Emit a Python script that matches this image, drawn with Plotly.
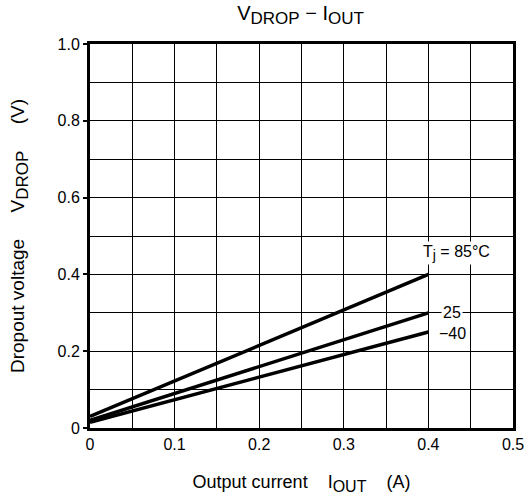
import plotly.graph_objects as go

# Dropout voltage vs output current at three junction temperatures
iout = [0.0, 0.4]
vdrop_85 = [0.030, 0.400]
vdrop_25 = [0.020, 0.300]
vdrop_m40 = [0.015, 0.250]

x_tickvals = [0, 0.1, 0.2, 0.3, 0.4, 0.5]
x_ticktext = ["0", "0.1", "0.2", "0.3", "0.4", "0.5"]
y_tickvals = [0, 0.2, 0.4, 0.6, 0.8, 1.0]
y_ticktext = ["0", "0.2", "0.4", "0.6", "0.8", "1.0"]

FONT = "Liberation Sans, Arial, sans-serif"


def sub(s, size):
    # subscript kept close to full size, as in datasheet typography
    return f"<sub><span style='font-size:{size}px'>{s}</span></sub>"


fig = go.Figure()
for ys in (vdrop_85, vdrop_25, vdrop_m40):
    fig.add_trace(go.Scatter(x=iout, y=ys, mode="lines",
                             line=dict(color="black", width=3.5),
                             showlegend=False, hoverinfo="skip"))

# Curve labels
labels = [
    (0.433, 0.456, "T" + sub("j", 14) + " = 85°C"),
    (0.428, 0.302, "25"),
    (0.428, 0.245, "−40"),
]
for x, y, t in labels:
    fig.add_annotation(x=x, y=y, text=t, showarrow=False,
                       font=dict(family=FONT, size=16, color="black"),
                       bgcolor="white", borderpad=1)

axis_common = dict(
    showline=True, linecolor="black", linewidth=3, mirror=True,
    showgrid=True, gridcolor="black", gridwidth=1,
    zeroline=False, color="black", ticklabeloverflow="allow",
    tickfont=dict(family=FONT, size=16, color="black"),
)

fig.update_layout(
    width=530, height=502, autosize=False,
    margin=dict(l=90, r=6, t=44, b=74),
    paper_bgcolor="white", plot_bgcolor="white",
    font=dict(family=FONT, color="black"),
    title=dict(text="V" + sub("DROP", 17) + " − I" + sub("OUT", 17),
               x=0.567, xanchor="center", y=0.974, yanchor="middle",
               font=dict(family=FONT, size=20, color="black")),
    xaxis=dict(range=[0, 0.5], tickvals=x_tickvals, ticktext=x_ticktext,
               ticks="",
               minor=dict(dtick=0.05, tick0=0, showgrid=True,
                          gridcolor="black", gridwidth=1),
               title=dict(text="Output current    I" + sub("OUT", 16) + "    (A)",
                          standoff=24,
                          font=dict(family=FONT, size=18, color="black")),
               **axis_common),
    yaxis=dict(range=[0, 1.0], tickvals=y_tickvals, ticktext=y_ticktext,
               ticks="outside", ticklen=4, tickwidth=1.5, tickcolor="black",
               minor=dict(dtick=0.1, tick0=0, showgrid=True,
                          gridcolor="black", gridwidth=1),
               title=dict(text="Dropout voltage     V" + sub("DROP", 17) + "     (V)",
                          standoff=28,
                          font=dict(family=FONT, size=19, color="black")),
               **axis_common),
)

fig.write_html("out.html", config={"responsive": False})
